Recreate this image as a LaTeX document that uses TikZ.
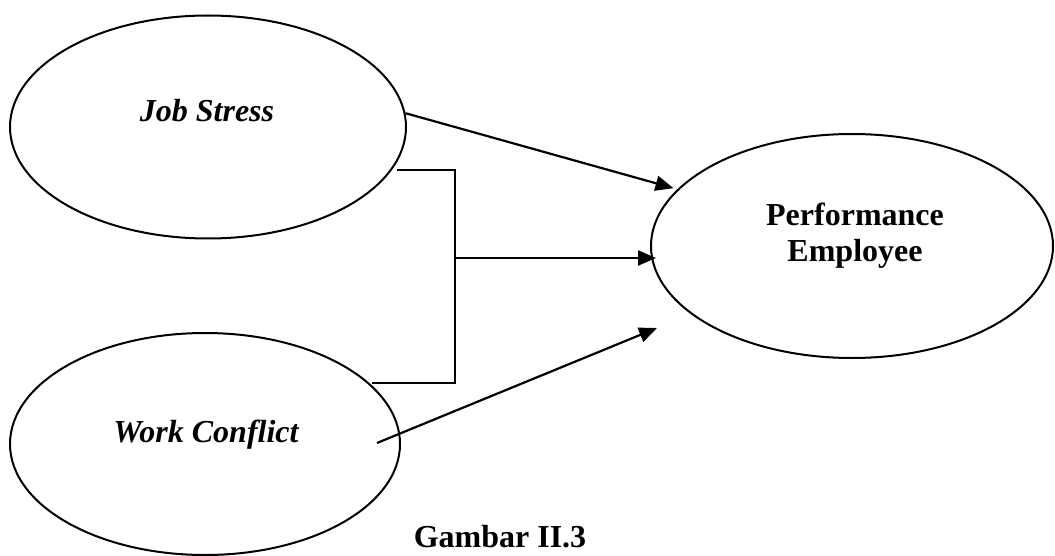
\documentclass[tikz,border=0pt]{standalone}
\usepackage{fontspec}
\setmainfont{Liberation Serif}
\usetikzlibrary{shapes.geometric, arrows.meta, positioning}

\begin{document}
\begin{tikzpicture}[
        x=0.5pt, y=-0.5pt,
        font=\fontsize{16}{18}\selectfont,
        factor/.style={
            ellipse,
            draw=black,
            line width=1pt,
            inner sep=0pt
        },
        varlabel/.style={
            anchor=base,
            font=\fontsize{16}{18}\selectfont\bfseries\itshape
        },
        arrow/.style={
            -{Triangle[length=9pt, width=7.5pt]},
            draw=black,
            line width=1.1pt
        },
        bracket/.style={
            draw=black,
            line width=0.8pt
        }
    ]
    \useasboundingbox (0,0) rectangle (1055,556);

    % Independent variables (left)
    \node[factor, minimum width=198pt, minimum height=111.5pt] (stress) at (208,127) {};
    \node[varlabel] (stresslbl) at (207,122) {Job Stress};

    \node[factor, minimum width=195pt, minimum height=111pt] (conflict) at (205,444) {};
    \node[varlabel] (conflictlbl) at (206,442) {Work Conflict};

    % Dependent variable (right)
    \node[factor, minimum width=201pt, minimum height=112pt] (perf) at (852,246) {};
    \node[align=center, font=\fontsize{16}{18}\selectfont\bfseries] (perflbl) at (855,236) {Performance\\Employee};

    % Caption
    \node[anchor=base, font=\fontsize{16}{18}\selectfont\bfseries] (caption) at (500,547) {Gambar II.3};

    % Bracket joining both variables
    \coordinate (brtop) at (397,170);
    \coordinate (brtopr) at (455,170);
    \coordinate (brbot) at (372,383);
    \coordinate (brbotr) at (455,383);
    \coordinate (brmid) at (455,258);
    \draw[bracket] (brtop) -- (brtopr) -- (brbotr) -- (brbot);

    % Arrows
    \coordinate (conflictout) at (377,443);
    \coordinate (perfin) at (657,328);
    \draw[arrow, shorten >=2pt] (stress.4) -- (perf.162);
    \draw[arrow] (brmid) -- ([xshift=3pt]brmid -| perf.west);
    \draw[arrow] (conflictout) -- (perfin);

\end{tikzpicture}
\end{document}
